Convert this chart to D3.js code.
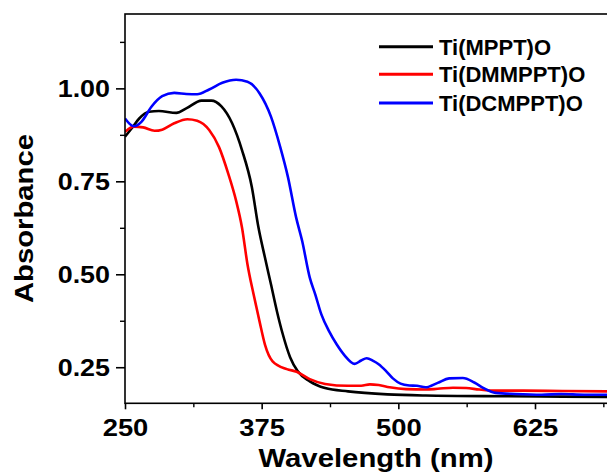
<!DOCTYPE html>
<html>
<head>
<meta charset="utf-8">
<script src="https://cdn.jsdelivr.net/npm/d3@7"></script>
<style>
  html, body { margin: 0; padding: 0; background: #fff; }
  svg { display: block; }
  text { font-family: Arial, "Liberation Sans", Helvetica, sans-serif; font-weight: bold; fill: #000; }
</style>
</head>
<body>
<svg id="chart" width="607" height="472"></svg>
<script>
// ---- Data ----
const seriesNames = ["Ti(MPPT)O", "Ti(DMMPPT)O", "Ti(DCMPPT)O"];
const seriesColors = ["#000000", "#ff0000", "#0000ff"];

const mpptWavelength = [250,256,263,272,281,297,306,320,329,338,348,357,366,372,378,383.5,389,394,401,408,419,433,454,490,525,596,650,700];
const mpptAbsorbance = [0.870,0.892,0.919,0.937,0.939,0.934,0.946,0.967,0.967,0.952,0.906,0.834,0.735,0.627,0.545,0.473,0.400,0.342,0.277,0.239,0.212,0.194,0.185,0.177,0.174,0.172,0.171,0.170];

const dmmpptWavelength = [250,258,266.6,277,284,295,307,316,327,336,344.5,351.6,357,362,367.6,373,378,385,398,407,419,433,454,466,474,482,492,507,525,536,550,562,574,589,614,650,700];
const dmmpptAbsorbance = [0.883,0.897,0.895,0.886,0.889,0.906,0.917,0.913,0.888,0.842,0.770,0.698,0.626,0.527,0.446,0.374,0.311,0.266,0.245,0.238,0.218,0.205,0.200,0.200,0.204,0.202,0.196,0.191,0.190,0.192,0.195,0.194,0.190,0.187,0.187,0.186,0.185];

const dcmpptWavelength = [250,258,265,274,284,295,306,316,327,339,351.6,362,373,383.5,392,399,406.5,412,419,424,429.6,436.6,443.7,450.8,460,466,471,477,482,489,495,502,510,517,525,536,546.5,559,569.5,578,589,607,631,649,670,700];
const dcmpptAbsorbance = [0.919,0.898,0.910,0.950,0.979,0.988,0.985,0.984,0.997,1.015,1.023,1.018,0.987,0.924,0.842,0.762,0.653,0.590,0.491,0.446,0.392,0.347,0.311,0.282,0.259,0.268,0.274,0.267,0.258,0.239,0.220,0.206,0.201,0.200,0.196,0.208,0.220,0.221,0.209,0.194,0.181,0.178,0.176,0.178,0.176,0.176];

const xTickValues = [250, 375, 500, 625];
const xMinorTickValues = [312.5, 437.5, 562.5, 687.5];
const yTickValues = [0.25, 0.50, 0.75, 1.00];
const yMinorTickValues = [0.375, 0.625, 0.875, 1.125];

const xLabel = "Wavelength (nm)";
const yLabel = "Absorbance";

(function () {
// ---- Layout ----
const svg = d3.select("#chart");
const mLeft = 125, mRight = 617, mTop = 14, mBottom = 403.3;

const x = d3.scaleLinear().domain([250, 700]).range([mLeft, mRight]);
const y = d3.scaleLinear().domain([0.153, 1.2]).range([mBottom, mTop]);

const series = [
  { name: seriesNames[0], color: seriesColors[0], xs: mpptWavelength, ys: mpptAbsorbance },
  { name: seriesNames[1], color: seriesColors[1], xs: dmmpptWavelength, ys: dmmpptAbsorbance },
  { name: seriesNames[2], color: seriesColors[2], xs: dcmpptWavelength, ys: dcmpptAbsorbance }
];

svg.append("defs").append("clipPath").attr("id", "plotclip")
  .append("rect").attr("x", mLeft).attr("y", mTop).attr("width", mRight - mLeft).attr("height", mBottom - mTop);

const line = d3.line().x(d => x(d[0])).y(d => y(d[1])).curve(d3.curveMonotoneX);

const plot = svg.append("g").attr("clip-path", "url(#plotclip)");
series.forEach(s => {
  const pts = s.xs.map((v, i) => [v, s.ys[i]]);
  plot.append("path").datum(pts)
    .attr("fill", "none").attr("stroke", s.color).attr("stroke-width", 2.6)
    .attr("stroke-linejoin", "round").attr("d", line);
});

// ---- Frame ----
svg.append("rect").attr("x", mLeft).attr("y", mTop).attr("width", mRight - mLeft).attr("height", mBottom - mTop)
  .attr("fill", "none").attr("stroke", "#000").attr("stroke-width", 1.6);

// ---- Axes ----
function stretch(sel, factor) {
  sel.each(function () {
    const w = this.getComputedTextLength();
    d3.select(this).attr("textLength", w * factor).attr("lengthAdjust", "spacingAndGlyphs");
  });
}

const xAxis = svg.append("g").attr("transform", `translate(0,${mBottom})`)
  .call(d3.axisBottom(x).tickValues(xTickValues).tickSize(6).tickPadding(5).tickFormat(d3.format("d")));
xAxis.select(".domain").remove();
xAxis.selectAll("line").attr("stroke-width", 1.6);
xAxis.selectAll("text").attr("font-size", 24).attr("dy", "0.71em").attr("y", 16)
  .style("font-family", "Arial, 'Liberation Sans', sans-serif").style("font-weight", "bold");
stretch(xAxis.selectAll("text"), 1.14);

const xMinor = svg.append("g").attr("transform", `translate(0,${mBottom})`)
  .call(d3.axisBottom(x).tickValues(xMinorTickValues).tickSize(4).tickFormat(""));
xMinor.select(".domain").remove();
xMinor.selectAll("line").attr("stroke-width", 1.4);

const yAxis = svg.append("g").attr("transform", `translate(${mLeft},0)`)
  .call(d3.axisLeft(y).tickValues(yTickValues).tickSize(9).tickPadding(6).tickFormat(d3.format(".2f")));
yAxis.select(".domain").remove();
yAxis.selectAll("line").attr("stroke-width", 1.6);
yAxis.selectAll("text").attr("font-size", 24).attr("dy", "0.35em")
  .style("font-family", "Arial, 'Liberation Sans', sans-serif").style("font-weight", "bold");
stretch(yAxis.selectAll("text"), 1.12);

const yMinor = svg.append("g").attr("transform", `translate(${mLeft},0)`)
  .call(d3.axisLeft(y).tickValues(yMinorTickValues).tickSize(5).tickFormat(""));
yMinor.select(".domain").remove();
yMinor.selectAll("line").attr("stroke-width", 1.4);

// ---- Axis titles ----
svg.append("text").attr("x", 376).attr("y", 467).attr("text-anchor", "middle")
  .attr("font-size", 25).attr("textLength", 235).attr("lengthAdjust", "spacingAndGlyphs").text(xLabel);

svg.append("text").attr("transform", "translate(33,218.5) rotate(-90)")
  .attr("text-anchor", "middle").attr("font-size", 25)
  .attr("textLength", 169).attr("lengthAdjust", "spacingAndGlyphs").text(yLabel);

// ---- Legend ----
const legendY = [46.8, 74.2, 103];
const legend = svg.append("g");
series.forEach((s, i) => {
  legend.append("line").attr("x1", 379).attr("x2", 433).attr("y1", legendY[i]).attr("y2", legendY[i])
    .attr("stroke", s.color).attr("stroke-width", 3);
  legend.append("text").attr("x", 439).attr("y", legendY[i]).attr("dy", "0.36em")
    .attr("font-size", 22).text(s.name);
});
})();
</script>
</body>
</html>
